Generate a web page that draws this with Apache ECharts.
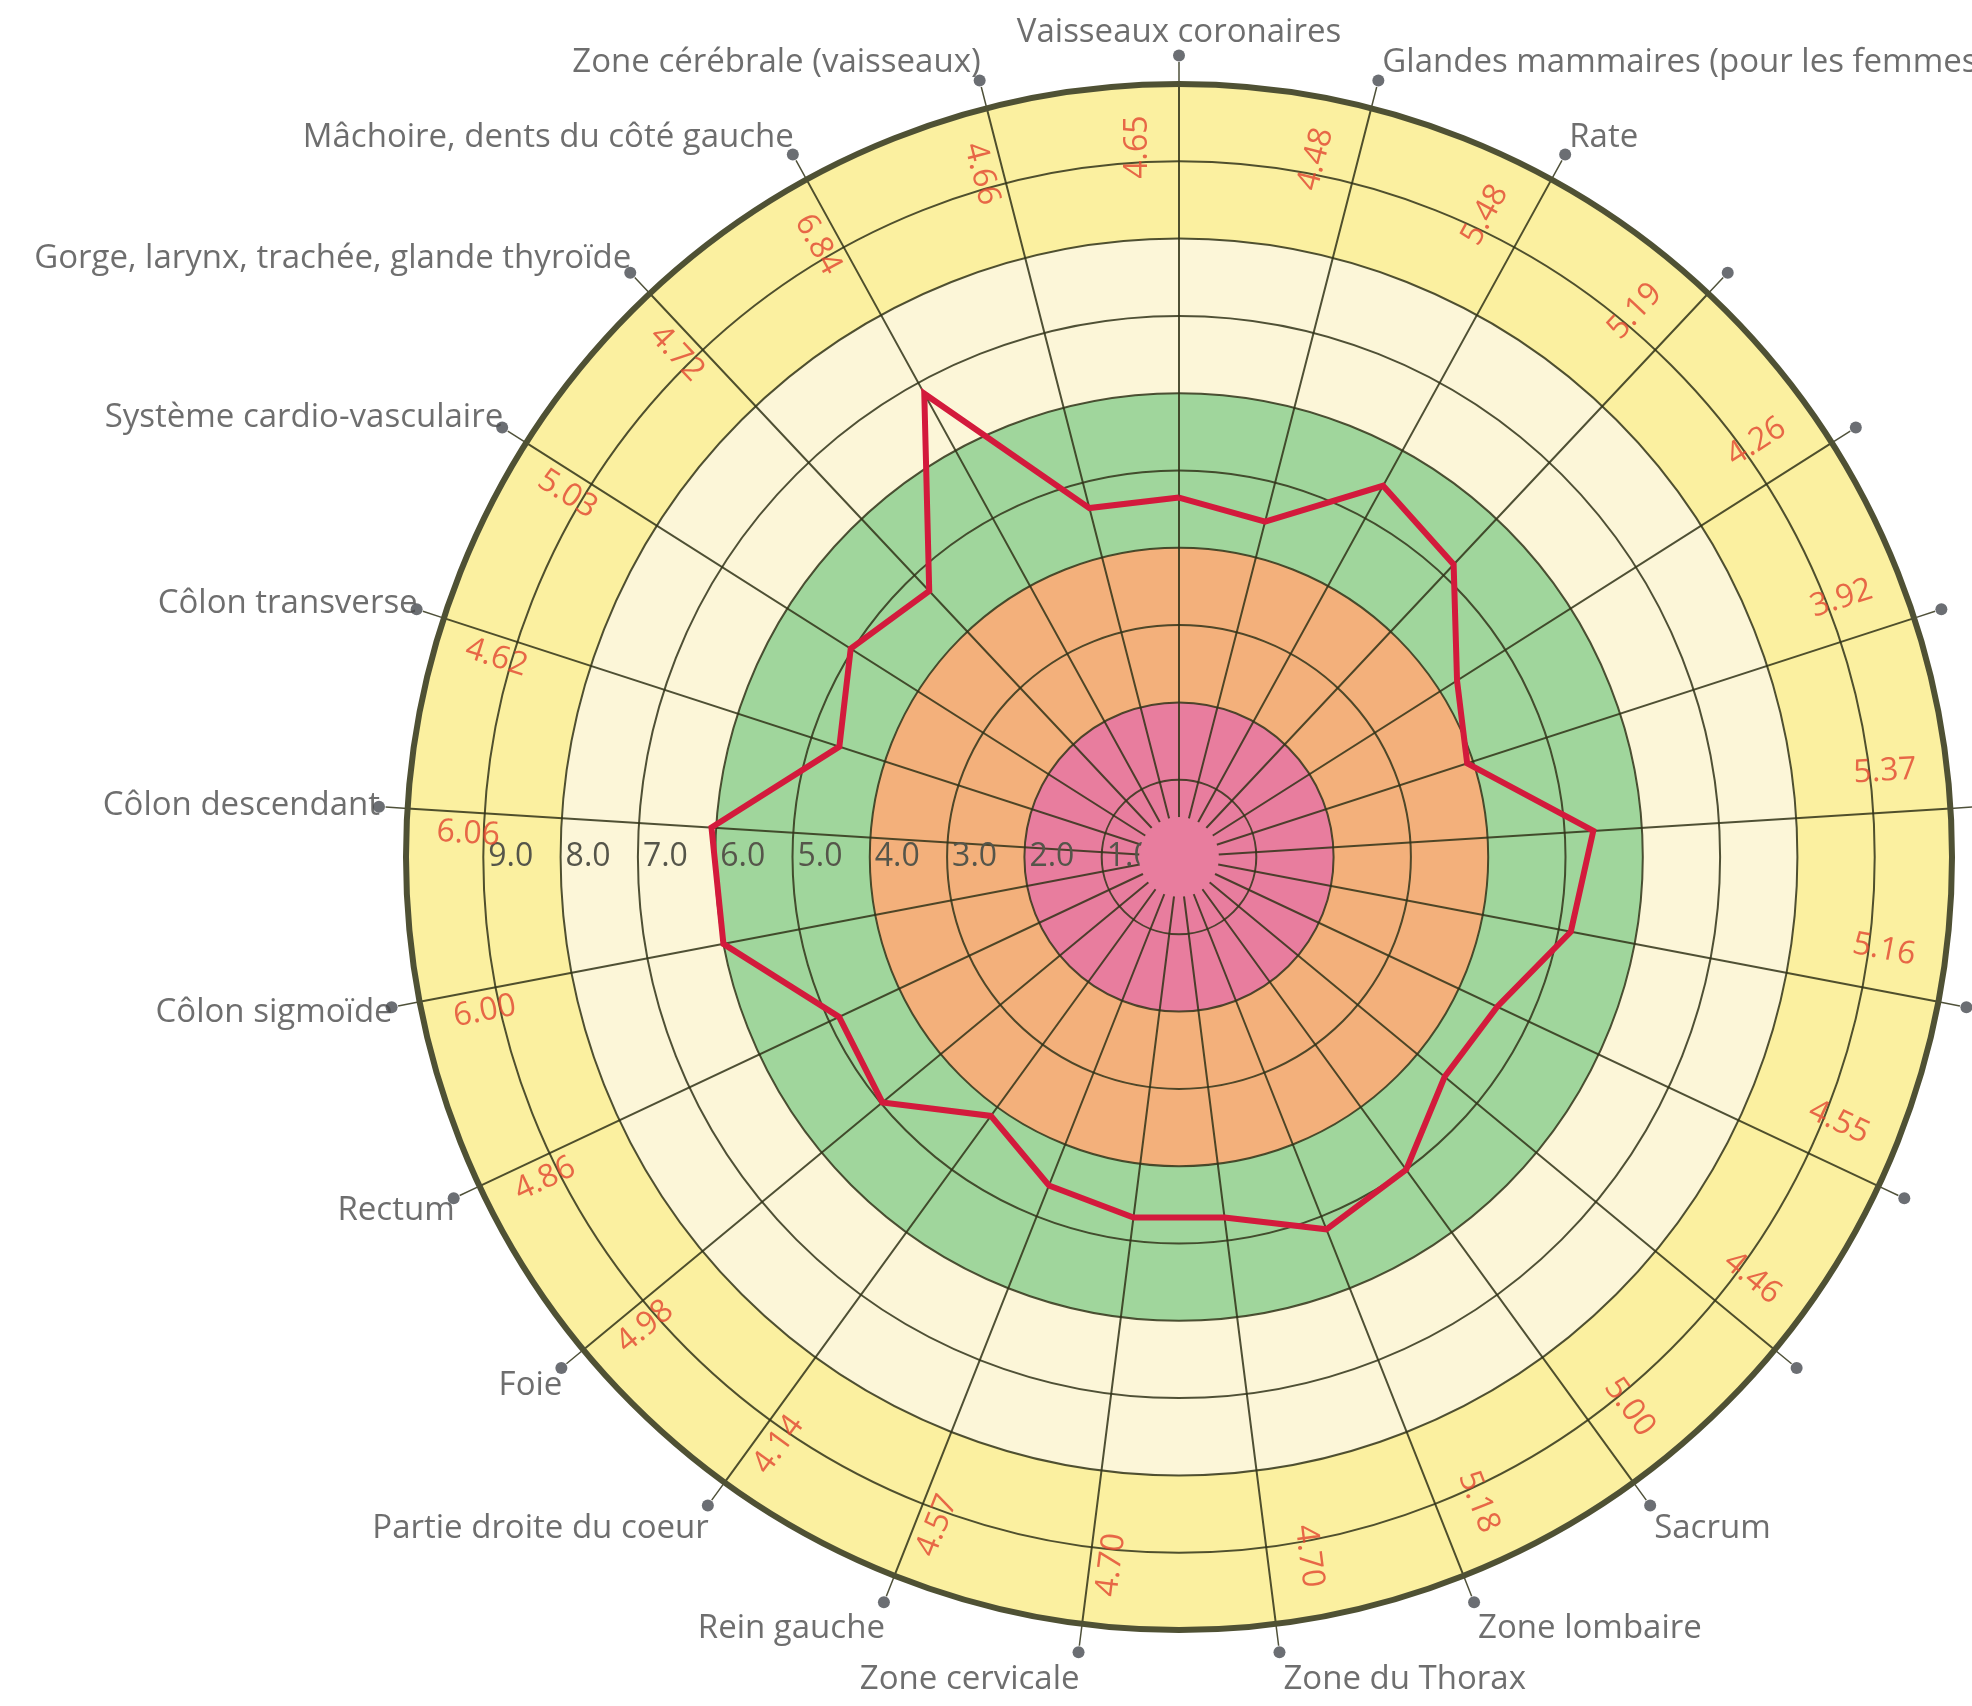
<!DOCTYPE html>
<html>
<head>
<meta charset="utf-8">
<script src="https://cdn.jsdelivr.net/npm/echarts@6/dist/echarts.min.js"></script>
<style>
  html, body { margin: 0; padding: 0; background: #ffffff; }
  #chart { width: 1972px; height: 1706px; }
</style>
</head>
<body>
<div id="chart"></div>
<script>
// Body zones, clockwise from the top spoke
const organs = [
  'Vaisseaux coronaires',
  'Glandes mammaires (pour les femmes)',
  'Rate',
  '', '', '', '', '', '', '',
  'Sacrum',
  'Zone lombaire',
  'Zone du Thorax',
  'Zone cervicale',
  'Rein gauche',
  'Partie droite du coeur',
  'Foie',
  'Rectum',
  'Côlon sigmoïde',
  'Côlon descendant',
  'Côlon transverse',
  'Système cardio-vasculaire',
  'Gorge, larynx, trachée, glande thyroïde',
  'Mâchoire, dents du côté gauche',
  'Zone cérébrale (vaisseaux)'
];

// Measured score for each zone
const scores = [
  4.65, 4.48, 5.48, 5.19, 4.26, 3.92, 5.37, 5.16, 4.55, 4.46,
  5.00, 5.18, 4.70, 4.70, 4.57, 4.14, 4.98, 4.86, 6.00, 6.06,
  4.62, 5.03, 4.72, 6.84, 4.66
];

// Ring labels along the left radius
const ringLabels = ['1.0', '2.0', '3.0', '4.0', '5.0', '6.0', '7.0', '8.0', '9.0'];

// Zone colours, one per unit ring from the centre outwards
const bandColors = [
  '#e87d9e', '#e87d9e',
  '#f3b07b', '#f3b07b',
  '#a0d69c', '#a0d69c',
  '#fcf6d8', '#fcf6d8',
  '#fbf0a0', '#fbf0a0'
];

const CX = 1179, CY = 857, R = 773;
const RMAX = 10;
const N = organs.length;
const DOT_R = 10.37;
const VALUE_LABEL_R = 9.2;
const gridColor = 'rgba(48, 50, 24, 0.85)';
const textFont = 'Open Sans';

const chart = echarts.init(document.getElementById('chart'), null, { renderer: 'canvas' });

// Outer dots with zone names
const nameData = organs.map(function (name, i) {
  const theta = i * 360 / N;
  const rad = theta * Math.PI / 180;
  const s = Math.sin(rad), c = Math.cos(rad);
  let align, vAlign = 'middle', dx, dy;
  if (Math.abs(s) < 0.1) {
    align = 'center'; vAlign = c > 0 ? 'bottom' : 'top'; dx = 0; dy = c > 0 ? -6 : 6;
  } else {
    align = s > 0 ? 'left' : 'right';
    dx = s > 0 ? 4 : 1;
    dy = c >= 0 ? -19 * c : -28 * c;
  }
  return {
    value: [DOT_R, i],
    label: {
      show: name !== '',
      formatter: name,
      align: align,
      verticalAlign: vAlign,
      offset: [dx, dy]
    }
  };
});

// Rotated score labels in the outer band
const scoreLabelData = scores.map(function (v, i) {
  const theta = i * 360 / N;
  const rightHalf = theta < 180;
  const shift = rightHalf ? -0.23 : -0.12;
  return {
    value: [VALUE_LABEL_R, (i + shift + N) % N, v],
    label: { rotate: rightHalf ? 90 - theta : 270 - theta }
  };
});

// Closed profile line
const lineData = scores.map(function (v, i) { return [v, i]; });
lineData.push([scores[0], N]);

const option = {
  backgroundColor: '#ffffff',
  animation: false,
  polar: [
    { center: [CX, CY], radius: R },
    { center: [CX, CY], radius: R }
  ],
  angleAxis: [
    {
      polarIndex: 0,
      type: 'value',
      min: 0, max: N, interval: 1,
      startAngle: 90, clockwise: true,
      z: 1,
      axisLine: { show: true, lineStyle: { color: '#4f5134', width: 6 } },
      axisTick: { show: true, length: 22, lineStyle: { color: gridColor, width: 1.5 } },
      axisLabel: { show: false },
      splitLine: { show: true, lineStyle: { color: gridColor, width: 2 } }
    },
    {
      polarIndex: 1,
      type: 'value',
      min: 0, max: N, interval: 1,
      startAngle: 180, clockwise: true,
      show: false
    }
  ],
  radiusAxis: [
    {
      polarIndex: 0,
      type: 'value',
      min: 0, max: RMAX, interval: 1,
      z: 0,
      axisLine: { show: false },
      axisTick: { show: false },
      axisLabel: { show: false },
      splitLine: { show: false },
      splitArea: { show: true, areaStyle: { color: bandColors, opacity: 1 } }
    },
    {
      polarIndex: 1,
      type: 'value',
      min: 0, max: RMAX, interval: 1,
      z: 1,
      axisLine: { show: false },
      axisTick: { show: false },
      splitArea: { show: false },
      splitLine: { show: true, lineStyle: { color: gridColor, width: 2 } },
      axisLabel: {
        show: true,
        margin: 0,
        align: 'left',
        verticalAlign: 'middle',
        padding: [14, 0, 0, 5],
        color: '#55554a',
        fontSize: 32,
        fontFamily: textFont,
        formatter: function (v) {
          const k = Math.round(v);
          return (k >= 1 && k <= ringLabels.length) ? ringLabels[k - 1] : '';
        }
      }
    }
  ],
  series: [
    {
      // plain centre of the inner zone
      type: 'pie',
      center: [CX, CY],
      radius: [0, 40],
      silent: true,
      z: 2,
      label: { show: false },
      labelLine: { show: false },
      itemStyle: { color: bandColors[0], borderWidth: 0 },
      data: [{ value: 1 }]
    },
    {
      type: 'scatter',
      coordinateSystem: 'polar',
      polarIndex: 0,
      clip: false,
      silent: true,
      z: 3,
      symbol: 'circle',
      symbolSize: 1,
      itemStyle: { color: 'rgba(0,0,0,0)' },
      label: {
        show: true,
        position: 'inside',
        align: 'center',
        verticalAlign: 'middle',
        color: '#e2452f',
        fontSize: 32,
        fontFamily: textFont,
        formatter: function (p) { return p.value[2].toFixed(2); }
      },
      data: scoreLabelData
    },
    {
      type: 'line',
      coordinateSystem: 'polar',
      polarIndex: 0,
      silent: true,
      z: 4,
      showSymbol: false,
      symbol: 'none',
      lineStyle: { color: '#d31a3c', width: 6, join: 'miter' },
      data: lineData
    },
    {
      type: 'scatter',
      coordinateSystem: 'polar',
      polarIndex: 0,
      clip: false,
      silent: true,
      z: 4,
      symbol: 'circle',
      symbolSize: 12,
      itemStyle: { color: '#464a50' },
      label: {
        show: true,
        position: 'inside',
        color: '#4a4a4a',
        fontSize: 33,
        fontFamily: textFont
      },
      data: nameData
    }
  ]
};

chart.setOption(option);
</script>
</body>
</html>
